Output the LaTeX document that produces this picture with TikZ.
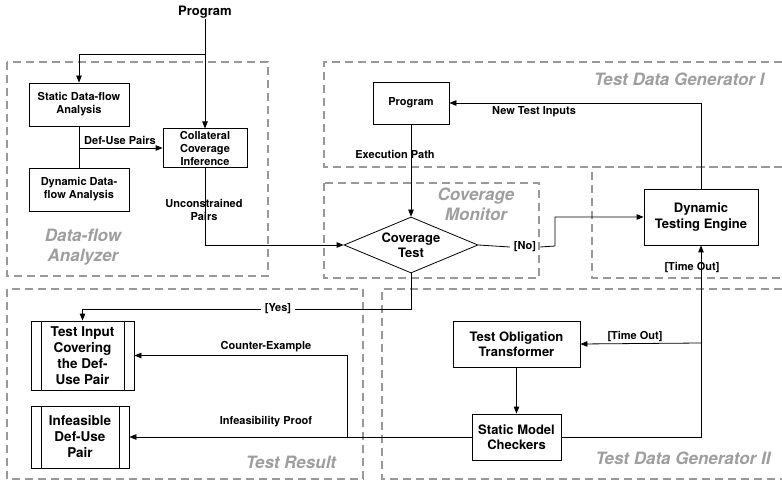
\documentclass[tikz,border=0pt]{standalone}
\usepackage{fontspec}
\setmainfont{TeX Gyre Heros}
\usetikzlibrary{shapes.geometric,arrows.meta,shadows}

\tikzset{
  box/.style={draw, line width=0.8pt, fill=white, align=center, inner sep=2pt,
    font=\bfseries\fontsize{11}{13}\selectfont,
    drop shadow={shadow xshift=0.9pt, shadow yshift=-0.9pt, fill=black!40, opacity=0.6}},
  bigbox/.style={box, font=\bfseries\fontsize{13}{15.5}\selectfont},
  resultbox/.style={box, font=\bfseries\fontsize{13.5}{16}\selectfont,
    path picture={
      \draw[line width=0.8pt] ([xshift=10pt]path picture bounding box.north west) -- ([xshift=10pt]path picture bounding box.south west);
      \draw[line width=0.8pt] ([xshift=-10pt]path picture bounding box.north east) -- ([xshift=-10pt]path picture bounding box.south east);
    }},
  decision/.style={draw, line width=0.8pt, fill=white, shape=diamond, aspect=2.4, inner sep=0pt,
    align=center, font=\bfseries\fontsize{13}{15.5}\selectfont,
    minimum width=134pt, minimum height=56pt},
  lbl/.style={font=\bfseries\fontsize{11}{13}\selectfont, align=center, inner sep=1pt},
  gate/.style={lbl, inner sep=4pt},
  flow/.style={line width=0.8pt, -{Triangle[length=7pt,width=5.5pt]}},
  plain/.style={line width=0.8pt},
  region/.style={draw=black!40, dash pattern=on 8pt off 5pt, line width=1.3pt},
  title/.style={text=black!38, align=center, font=\bfseries\itshape\fontsize{17}{20}\selectfont},
}

\begin{document}
\begin{tikzpicture}[x=1pt, y=-1pt]
\useasboundingbox (0,0) rectangle (782,481);

% dashed group outlines
\draw[region] (7,62) rectangle (268,276);
\draw[region] (782,62) -- (324,62) -- (324,167) -- (782,167);
\draw[region] (324,183) rectangle (539,278);
\draw[region] (782,167) -- (592,167) -- (592,278) -- (782,278);
\draw[region] (7,289) rectangle (363,479);
\draw[region] (782,289) -- (382,289) -- (382,479) -- (782,479);

% group titles
\node[title] (tdfa) at (83,247) {Data-flow\\Analyzer};
\node[title, anchor=east] (ttdg1) at (768,79) {Test Data Generator I};
\node[title] (tcm) at (476,204) {Coverage\\Monitor};
\node[title] (ttr) at (291,462) {Test Result};
\node[title] (ttdg2) at (683,458) {Test Data Generator II};

% blocks
\node[font=\bfseries\fontsize{13}{15}\selectfont, inner sep=1pt] (prog) at (205,12) {Program};
\node[box, minimum width=100pt, minimum height=43pt] (static) at (79,104.5) {Static Data-flow\\Analysis};
\node[box, minimum width=100pt, minimum height=43pt] (dyn) at (79,189.5) {Dynamic Data-\\flow Analysis};
\node[box, minimum width=84pt, minimum height=38pt] (coll) at (205,148) {Collateral\\Coverage\\Inference};
\node[box, minimum width=76pt, minimum height=42pt] (prog2) at (411,103) {Program};
\node[decision] (cov) at (411,245) {Coverage\\Test};
\node[bigbox, minimum width=114pt, minimum height=56pt] (dte) at (701,217) {Dynamic\\Testing Engine};
\node[resultbox, minimum width=103pt, minimum height=69pt] (ti) at (82.5,355.5) {Test Input\\Covering\\the Def-\\Use Pair};
\node[resultbox, minimum width=98pt, minimum height=62pt] (inf) at (80,437) {Infeasible\\Def-Use\\Pair};
\node[bigbox, minimum width=127pt, minimum height=46pt] (tot) at (516.5,344) {Test Obligation\\Transformer};
\node[bigbox, minimum width=89pt, minimum height=46pt] (smc) at (516.5,437) {Static Model\\Checkers};

% junction points
\coordinate (split) at (205,54);
\coordinate (du) at (79,148);
\coordinate (nobend) at (555,246);
\coordinate (tobr) at (701,343);
\coordinate (cebr) at (347,437);

% connectors
\draw[flow] (prog) -- (coll);
\draw[flow] (split) -| (static);
\draw[plain] (static) -- (dyn);
\draw[flow] (du) -- (coll.west);
\node[lbl] (ldu) at (120,140) {Def-Use Pairs};
\draw[flow] (coll) |- (cov.west);
\node[lbl] (lup) at (204,210) {Unconstrained\\Pairs};
\draw[flow] (prog2) -- (cov);
\node[lbl] (lep) at (395,154) {Execution Path};
\draw[flow] (dte.north) |- (prog2.east);
\node[lbl] (lnti) at (534,112) {New Test Inputs};
\node[gate] (no) at (525,247) {[No]};
\draw[plain] (cov.east) -- (no.west);
\draw[flow] (no.east) -- (nobend) |- (dte.west);
\node[gate] (yes) at (278,309) {[Yes]};
\draw[plain] (cov.south) |- (yes.east);
\draw[flow] (yes.west) -| (ti.north);
\draw[flow] (smc.east) -| (dte.south);
\node[lbl] (lto1) at (692,268) {[Time Out]};
\draw[flow] (tobr) -- (tot.east);
\node[lbl] (lto2) at (635,337) {[Time Out]};
\draw[flow] (tot) -- (smc);
\draw[flow] (smc.west) -- (inf.east);
\node[lbl] (lip) at (266,422) {Infeasibility Proof};
\draw[flow] (cebr) |- (ti.east);
\node[lbl] (lce) at (266,347) {Counter-Example};
\end{tikzpicture}
\end{document}
